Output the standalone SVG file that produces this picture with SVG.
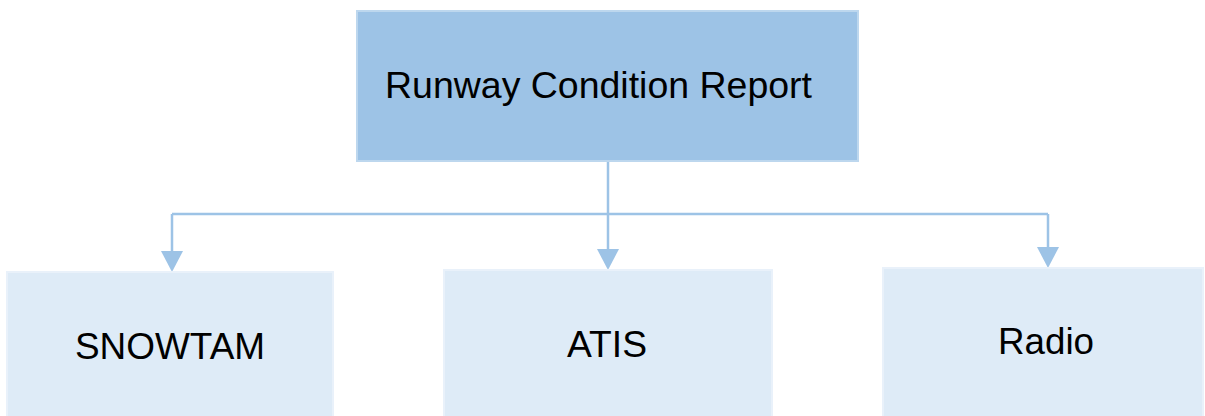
<svg xmlns="http://www.w3.org/2000/svg" width="1205" height="416" viewBox="0 0 1205 416">
  <style>
    .root { fill: #9DC3E6; stroke: #BDD7EE; stroke-width: 2; }
    .leaf { fill: #DEEBF7; stroke: #E9F1FA; stroke-width: 2; }
    .label { font-family: "Liberation Sans", Arial, sans-serif; font-size: 36px; fill: #000000; }
    .link { fill: none; stroke: #9DC3E6; stroke-width: 2.5; }
    .head { fill: #9DC3E6; }
  </style>

  <!-- connectors: trunk, bus and three drops with filled heads -->
  <g id="connectors">
    <path class="link" d="M608,161 V214"/>
    <path class="link" d="M172,214 H1048"/>
    <path class="link" d="M172,214 V255"/>
    <path class="link" d="M608,214 V253"/>
    <path class="link" d="M1048,214 V251"/>
    <path class="head" d="M161,251 H183 L172,272 Z"/>
    <path class="head" d="M597,249 H619 L608,270 Z"/>
    <path class="head" d="M1037,247 H1059 L1048,268 Z"/>
  </g>

  <!-- root node -->
  <g id="node-report">
    <rect class="root" x="357" y="11" width="501" height="150"/>
    <text class="label" x="385" y="98" font-size="37" textLength="427" lengthAdjust="spacingAndGlyphs">Runway Condition Report</text>
  </g>

  <!-- child nodes -->
  <g id="node-snowtam">
    <rect class="leaf" x="7" y="272" width="326" height="150"/>
    <text class="label" x="75" y="359" textLength="190" lengthAdjust="spacingAndGlyphs">SNOWTAM</text>
  </g>
  <g id="node-atis">
    <rect class="leaf" x="444" y="270" width="328" height="150"/>
    <text class="label" x="567" y="357" textLength="80" lengthAdjust="spacingAndGlyphs">ATIS</text>
  </g>
  <g id="node-radio">
    <rect class="leaf" x="883" y="268" width="320" height="150"/>
    <text class="label" x="998" y="354" textLength="96" lengthAdjust="spacingAndGlyphs">Radio</text>
  </g>
</svg>
